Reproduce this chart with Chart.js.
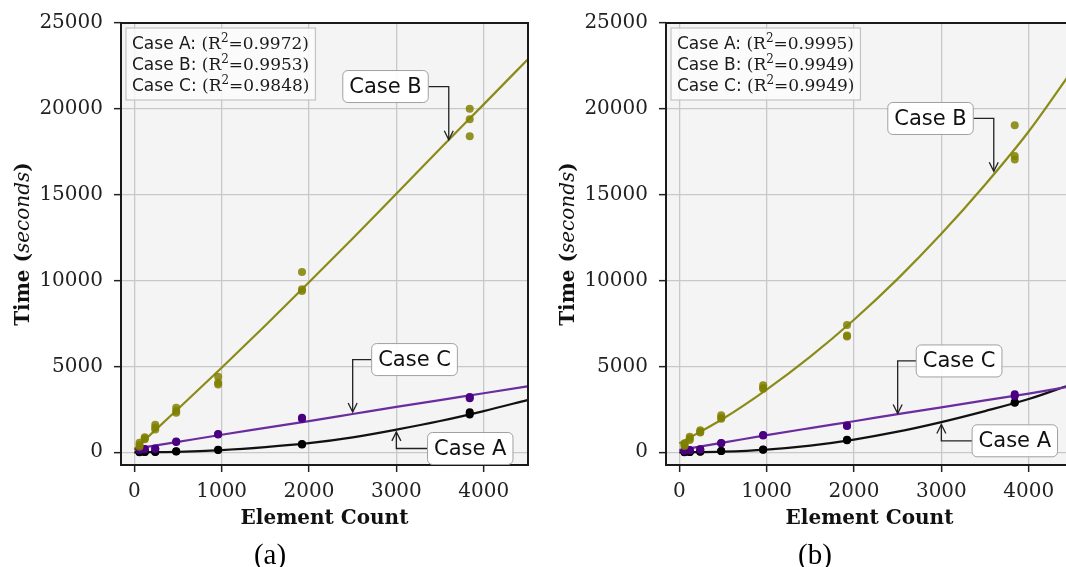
<!DOCTYPE html>
<html>
<head>
<meta charset="utf-8">
<script src="https://cdn.jsdelivr.net/npm/chart.js@4.4.1/dist/chart.umd.min.js"></script>
<style>
  html, body { margin: 0; padding: 0; background: #fff; }
  #wrap { position: relative; width: 1066px; height: 567px; overflow: hidden; }
  .panel { position: absolute; top: 0; width: 540px; height: 567px; }
</style>
</head>
<body>
<div id="wrap">
  <div class="panel" style="left:0"><canvas id="chartA" width="540" height="567"></canvas></div>
  <div class="panel" style="left:545px"><canvas id="chartB" width="540" height="567"></canvas></div>
</div>
<script>
// shared axes
const elementCounts = [60, 120, 240, 480, 960, 1920, 3840];
const xTicks = [0, 1000, 2000, 3000, 4000];
const yTicks = [0, 5000, 10000, 15000, 20000, 25000];
const fitX = [0, 500, 1000, 1500, 2000, 2500, 3000, 3500, 4000, 4500];

// panel (a) - measured times (seconds), one array per run
const aCaseA_run1 = [5, 10, 20, 50, 140, 460, 2200];
const aCaseA_run2 = [10, 15, 30, 60, 150, 480, 2330];
const aCaseB_run1 = [560, 870, 1600, 2600, 4400, 10500, 20000];
const aCaseB_run2 = [420, 800, 1450, 2400, 4050, 9500, 19400];
const aCaseB_run3 = [330, 760, 1330, 2300, 3950, 9400, 18400];
const aCaseC_run1 = [140, 170, 190, 600, 1030, 1950, 3150];
const aCaseC_run2 = [160, 190, 220, 630, 1060, 2010, 3220];
// panel (a) - fitted curves read at fitX
const aFitA = [0, 30, 130, 300, 530, 870, 1320, 1820, 2400, 3040];
const aFitB = [150, 2520, 4920, 7380, 9900, 12450, 15060, 17680, 20260, 22860];
const aFitC = [200, 610, 1020, 1420, 1820, 2230, 2640, 3040, 3440, 3840];
const aR2 = ['0.9972', '0.9953', '0.9848'];

// panel (b)
const bCaseA_run1 = [5, 10, 30, 70, 150, 700, 2880];
const bCaseA_run2 = [10, 15, 40, 80, 160, 730, 2920];
const bCaseB_run1 = [520, 900, 1280, 2150, 3900, 7420, 19050];
const bCaseB_run2 = [420, 800, 1200, 2010, 3750, 6800, 17250];
const bCaseB_run3 = [360, 720, 1150, 1950, 3700, 6750, 17050];
const bCaseC_run1 = [90, 120, 160, 520, 980, 1530, 3280];
const bCaseC_run2 = [110, 140, 180, 540, 1000, 1560, 3380];
const bFitA = [0, 40, 160, 390, 740, 1200, 1760, 2400, 3100, 3980];
const bFitB = [520, 1950, 3650, 5570, 7720, 10100, 12720, 15580, 18680, 22250];
const bFitC = [130, 560, 1000, 1410, 1810, 2220, 2620, 3020, 3420, 3860];
const bR2 = ['0.9995', '0.9949', '0.9949'];

const caseNames = ['Case A', 'Case B', 'Case C'];

// callout positions (data coords): arrow tip and label centre
const aNotes = [
  { label: 'Case B', tip: [3600, 18200], at: [2876, 21300] },
  { label: 'Case C', tip: [2500, 2350], at: [3208, 5400] },
  { label: 'Case A', tip: [3000, 1190], at: [3846, 220] }
];
const bNotes = [
  { label: 'Case B', tip: [3600, 16365], at: [2876, 19440] },
  { label: 'Case C', tip: [2500, 2260], at: [3203, 5320] },
  { label: 'Case A', tip: [3000, 1620], at: [3841, 670] }
];

const colA = '#111111', colB = 'rgba(128,128,0,0.9)', colBpt = 'rgba(128,128,0,0.85)';
const colC = '#6a2c9f', colCpt = '#4b0082';

function pts(xs, ys) {
  return xs.map((x, i) => ({ x: x, y: ys[i] }));
}

function runsData(runs) {
  let out = [];
  runs.forEach(r => { out = out.concat(pts(elementCounts, r)); });
  return out;
}

function drawNote(ctx, xs, ys, n) {
  const tipX = xs.getPixelForValue(n.tip[0]), tipY = ys.getPixelForValue(n.tip[1]);
  const cx = xs.getPixelForValue(n.at[0]), cy = ys.getPixelForValue(n.at[1]);
  ctx.font = '21px "DejaVu Sans"';
  const w = ctx.measureText(n.label).width + 13, h = 32;
  const left = cx - w / 2, right = cx + w / 2;
  const sx = tipX > cx ? right : left;
  // elbow connector
  ctx.strokeStyle = '#222';
  ctx.lineWidth = 1.3;
  ctx.beginPath();
  ctx.moveTo(sx, cy);
  ctx.lineTo(tipX, cy);
  ctx.lineTo(tipX, tipY);
  ctx.stroke();
  const dir = tipY > cy ? 1 : -1;
  ctx.beginPath();
  ctx.moveTo(tipX - 4.5, tipY - dir * 9);
  ctx.lineTo(tipX, tipY);
  ctx.lineTo(tipX + 4.5, tipY - dir * 9);
  ctx.stroke();
  // box
  ctx.beginPath();
  ctx.roundRect(left, cy - h / 2, w, h, 5);
  ctx.fillStyle = 'rgba(255,255,255,0.92)';
  ctx.fill();
  ctx.strokeStyle = '#a0a0a0';
  ctx.lineWidth = 1;
  ctx.stroke();
  ctx.fillStyle = '#111';
  ctx.textAlign = 'center';
  ctx.textBaseline = 'middle';
  ctx.fillText(n.label, cx, cy + 1);
}

const panelDecor = {
  id: 'panelDecor',
  beforeDraw(chart) {
    const { ctx, chartArea: a } = chart;
    ctx.save();
    ctx.fillStyle = '#f4f4f4';
    ctx.fillRect(a.left, a.top, a.right - a.left, a.bottom - a.top);
    ctx.restore();
  },
  afterDatasetsDraw(chart) {
    const { ctx, chartArea: a } = chart;
    ctx.save();
    ctx.strokeStyle = '#1a1a1a';
    ctx.lineWidth = 2;
    ctx.strokeRect(a.left, a.top, a.right - a.left, a.bottom - a.top);
    ctx.restore();
  },
  afterDraw(chart, args, opts) {
    const { ctx, chartArea: a, scales } = chart;
    ctx.save();

    // y title: "Time (seconds)" with italic unit
    const parts = [
      ['bold 20px "DejaVu Serif"', 'Time ('],
      ['italic 20px "DejaVu Serif"', 'seconds'],
      ['bold 20px "DejaVu Serif"', ')']
    ];
    let total = 0;
    parts.forEach(p => { ctx.font = p[0]; total += ctx.measureText(p[1]).width; });
    ctx.save();
    ctx.translate(29, (a.top + a.bottom) / 2);
    ctx.rotate(-Math.PI / 2);
    ctx.fillStyle = '#111';
    ctx.textBaseline = 'alphabetic';
    ctx.textAlign = 'left';
    let px = -total / 2;
    parts.forEach(p => { ctx.font = p[0]; ctx.fillText(p[1], px, 0); px += ctx.measureText(p[1]).width; });
    ctx.restore();

    // R^2 legend box
    const bx = a.left + 5, by = a.top + 5;
    const lines = opts.r2.map((v, i) => [
      ['17px "DejaVu Sans"', caseNames[i] + ': ', 0],
      ['17px "DejaVu Serif"', '(R', 0],
      ['12px "DejaVu Serif"', '2', -7],
      ['17px "DejaVu Serif"', '=' + v + ')', 0]
    ]);
    let maxW = 0;
    lines.forEach(l => {
      let w = 0;
      l.forEach(p => { ctx.font = p[0]; w += ctx.measureText(p[1]).width; });
      maxW = Math.max(maxW, w);
    });
    ctx.fillStyle = 'rgba(252,252,252,0.85)';
    ctx.fillRect(bx, by, maxW + 12, 72);
    ctx.strokeStyle = '#c4c4c4';
    ctx.lineWidth = 1.2;
    ctx.strokeRect(bx, by, maxW + 12, 72);
    ctx.fillStyle = '#1a1a1a';
    ctx.textAlign = 'left';
    ctx.textBaseline = 'alphabetic';
    lines.forEach((l, i) => {
      let x = bx + 6;
      const y = by + 20.7 + i * 21.3;
      l.forEach(p => { ctx.font = p[0]; ctx.fillText(p[1], x, y + p[2]); x += ctx.measureText(p[1]).width; });
    });

    // callouts
    opts.notes.forEach(n => drawNote(ctx, scales.x, scales.y, n));

    // sub-figure caption
    ctx.font = '29px "Liberation Serif"';
    ctx.fillStyle = '#000';
    ctx.textAlign = 'center';
    ctx.textBaseline = 'alphabetic';
    ctx.fillText(opts.caption, 270, 564);
    ctx.restore();
  }
};

function makePanel(id, caption, runsA, runsB, runsC, fitA, fitB, fitC, r2, notes) {
  const fitLine = (data, color) => ({
    data: pts(fitX, data), showLine: true, borderColor: color, borderWidth: 2.2,
    pointRadius: 0, cubicInterpolationMode: 'monotone', fill: false
  });
  const dots = (data, color) => ({
    data: runsData(data), backgroundColor: color, borderWidth: 0,
    pointRadius: 4, pointHoverRadius: 4, showLine: false
  });
  return new Chart(document.getElementById(id), {
    type: 'scatter',
    data: {
      datasets: [
        dots(runsB, colBpt), dots(runsC, colCpt), dots(runsA, '#000'),
        fitLine(fitB, colB), fitLine(fitC, colC), fitLine(fitA, colA)
      ]
    },
    options: {
      responsive: false,
      animation: false,
      layout: { padding: { left: 0, top: 21, right: 12, bottom: 0 } },
      plugins: {
        legend: { display: false },
        tooltip: { enabled: false },
        panelDecor: { caption: caption, r2: r2, notes: notes }
      },
      scales: {
        x: {
          type: 'linear', min: -152, max: 4507,
          afterBuildTicks: s => { s.ticks = xTicks.map(v => ({ value: v })); },
          afterFit: s => { s.height = 102; },
          grid: { color: '#c8c8c8', lineWidth: 1.3, tickLength: 7, tickColor: '#222', tickWidth: 1.5 },
          border: { display: false },
          ticks: { font: { family: 'DejaVu Serif', size: 20 }, color: '#222', padding: 8, maxRotation: 0, callback: v => String(v) },
          title: { display: true, text: 'Element Count', color: '#111',
                   font: { family: 'DejaVu Serif', size: 20, weight: 'bold' }, padding: { top: 0, bottom: 36 } }
        },
        y: {
          type: 'linear', min: -740, max: 25000,
          afterBuildTicks: s => { s.ticks = yTicks.map(v => ({ value: v })); },
          afterFit: s => { s.width = 121; },
          grid: { color: '#c8c8c8', lineWidth: 1.3, tickLength: 7, tickColor: '#222', tickWidth: 1.5 },
          border: { display: false },
          ticks: { font: { family: 'DejaVu Serif', size: 20 }, color: '#222', padding: 11, callback: v => String(v) }
        }
      }
    },
    plugins: [panelDecor]
  });
}

makePanel('chartA', '(a)',
  [aCaseA_run1, aCaseA_run2], [aCaseB_run1, aCaseB_run2, aCaseB_run3], [aCaseC_run1, aCaseC_run2],
  aFitA, aFitB, aFitC, aR2, aNotes);
makePanel('chartB', '(b)',
  [bCaseA_run1, bCaseA_run2], [bCaseB_run1, bCaseB_run2, bCaseB_run3], [bCaseC_run1, bCaseC_run2],
  bFitA, bFitB, bFitC, bR2, bNotes);
</script>
</body>
</html>
